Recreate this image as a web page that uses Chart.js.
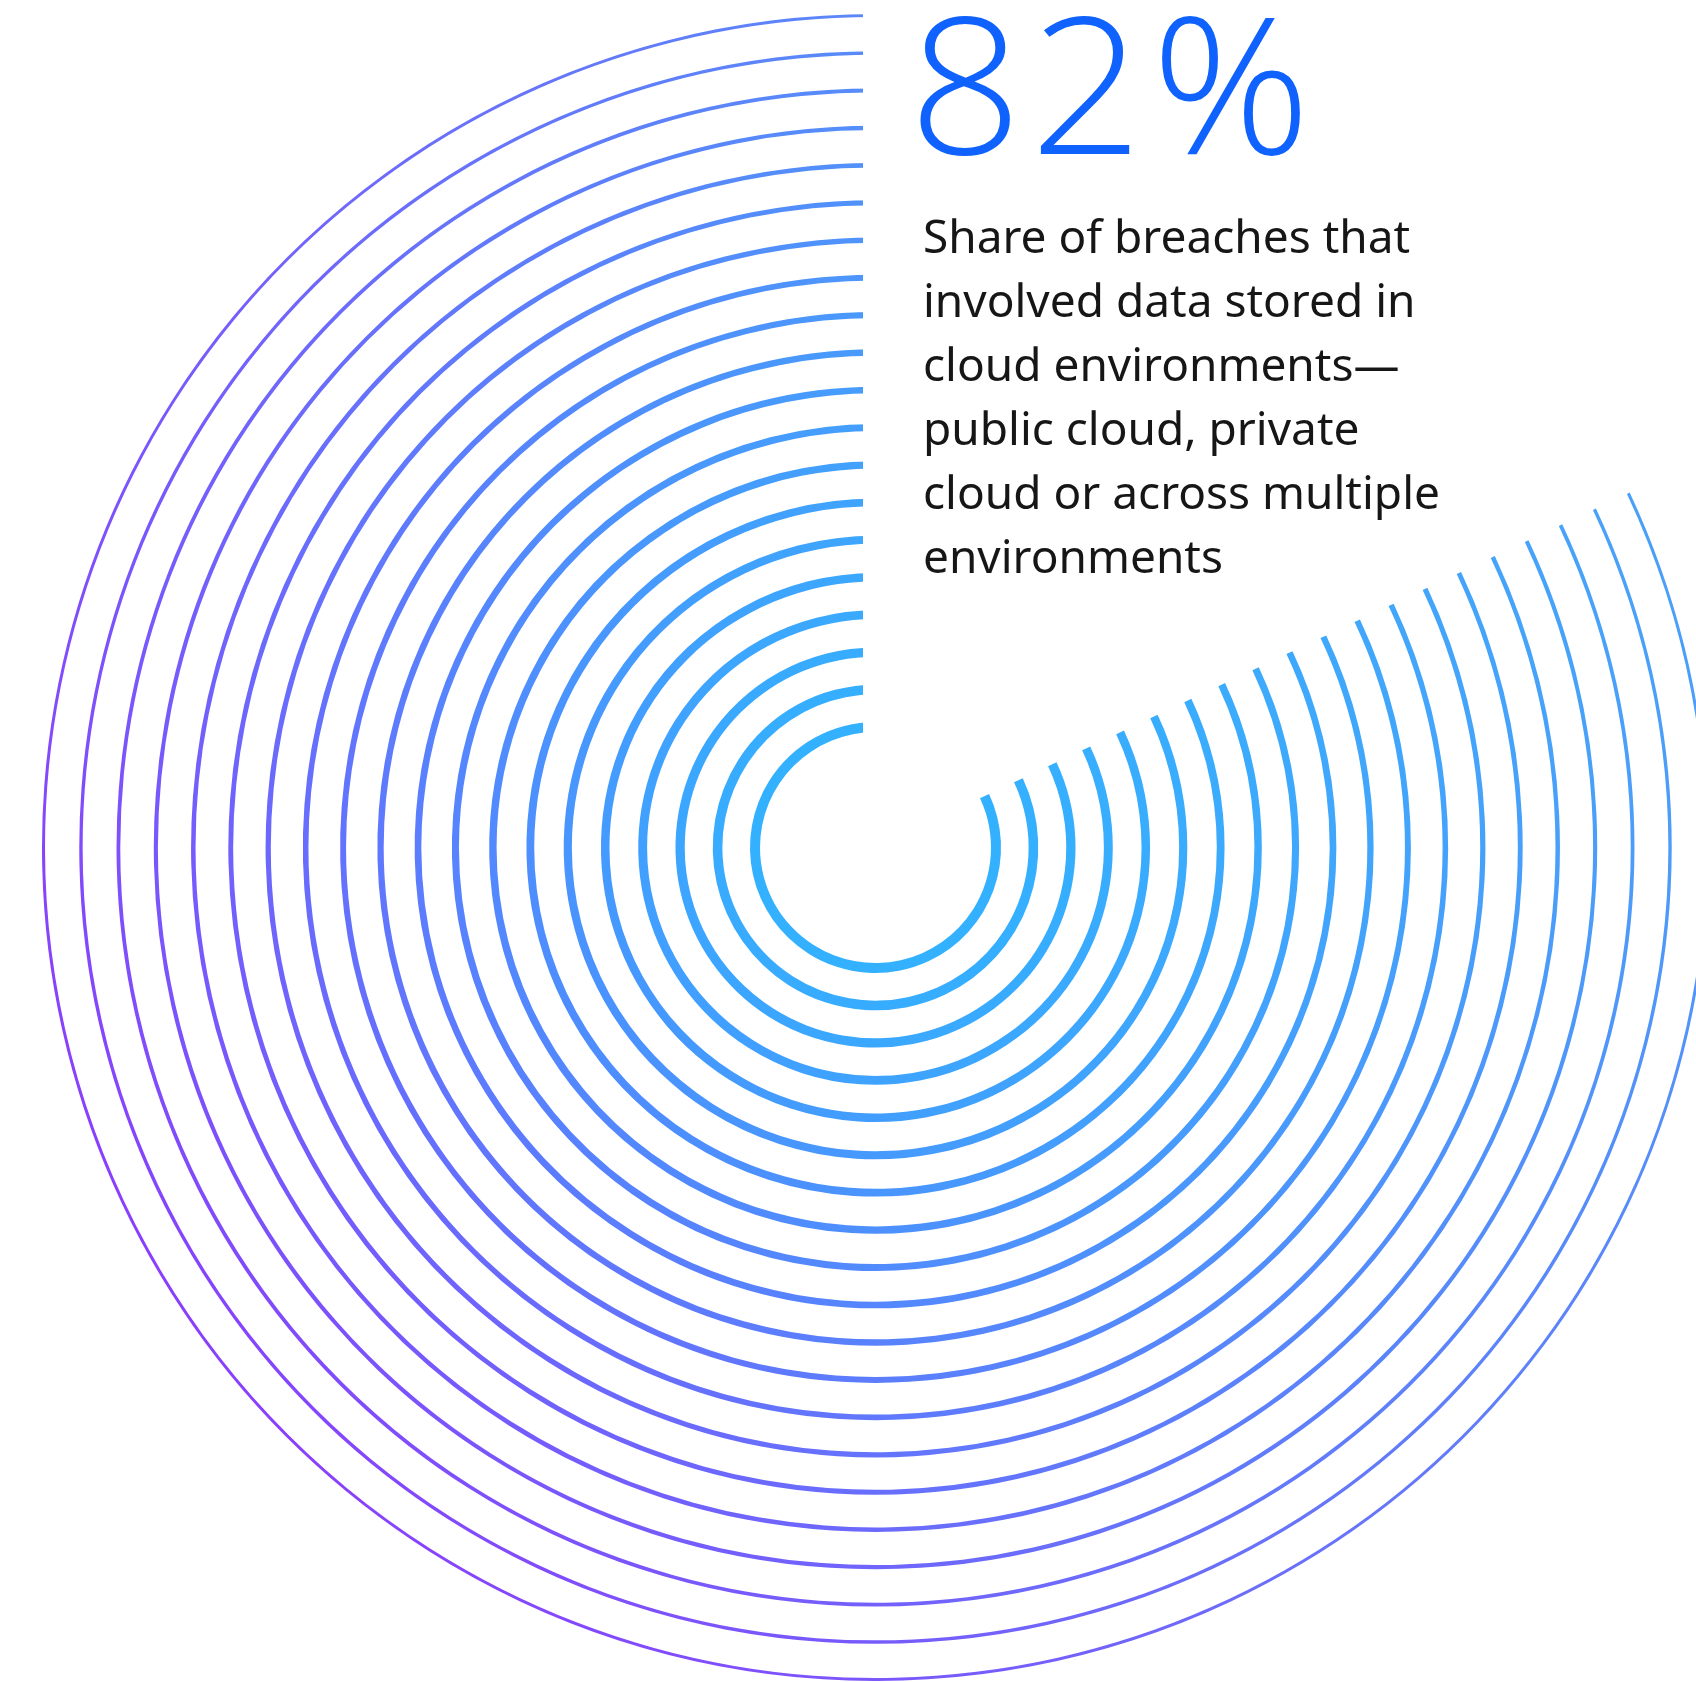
<!DOCTYPE html>
<html>
<head>
<meta charset="utf-8">
<script src="https://cdn.jsdelivr.net/npm/chart.js@4.4.1/dist/chart.umd.min.js"></script>
<style>
    html, body { margin: 0; padding: 0; background: #fff; }
    body { width: 1696px; height: 1682px; overflow: hidden; position: relative; }
    #chart-wrap { position: absolute; left: 42px; top: 14px; width: 1667px; height: 1667px; }
    .big-number {
        position: absolute; left: 909px; top: -14px;
        font-family: "Open Sans", sans-serif; font-weight: 300;
        font-size: 190px; line-height: 190px; color: #0f62fe;
        letter-spacing: 8px; transform: scaleX(1.04); transform-origin: left top;
    }
    .caption {
        position: absolute; left: 923px; top: 203px;
        font-family: "Noto Sans", sans-serif; font-size: 46px;
        line-height: 64px; color: #161616; white-space: nowrap;
    }
</style>
</head>
<body>
<div id="chart-wrap"><canvas id="ringChart"></canvas></div>
<div class="big-number" id="big-number"></div>
<div class="caption" id="caption"></div>

<script>
// data
const shareLabels = ['Cloud environments', 'Other'];
const shareValues = [82, 18];
const headline = '82%';
const captionLines = [
    'Share of breaches that',
    'involved data stored in',
    'cloud environments\u2014',
    'public cloud, private',
    'cloud or across multiple',
    'environments'
];

// ring look
const ringCount = 20;
const ringInner = 120.5;   // radius of the innermost ring (px)
const ringStep = 37.45;    // distance between rings (px)
const topCut = 12.5;       // ring ends are cut flat left of 12 o'clock

const cyan = [51, 177, 255];
const purple = [138, 63, 252];
const blueEnd = [74, 160, 248];

document.getElementById('big-number').textContent = headline;
document.getElementById('caption').innerHTML = captionLines.join('<br>');

function ringWidth(k) {
    return 10 - 7 * k / (ringCount - 1);
}

function mix(a, b, t) {
    const c = a.map((v, i) => Math.round(v + (b[i] - v) * t));
    return `rgb(${c[0]}, ${c[1]}, ${c[2]})`;
}

const gradientCache = {};

function ringFill(context, k) {
    if (context.dataIndex !== 0) return 'rgba(0,0,0,0)';
    const chart = context.chart;
    const area = chart.chartArea;
    if (!area) return mix(cyan, purple, k / (ringCount - 1));
    const key = k + '_' + area.width;
    if (gradientCache[key]) return gradientCache[key];
    const cx = (area.left + area.right) / 2;
    const cy = (area.top + area.bottom) / 2;
    const r = ringInner + ringStep * k;
    const f = k / (ringCount - 1);
    const g = chart.ctx.createLinearGradient(cx - r * 0.85, cy + r * 0.5, cx + r * 0.85, cy - r * 0.5);
    g.addColorStop(0, mix(cyan, purple, f));
    g.addColorStop(1, mix(cyan, blueEnd, f));
    gradientCache[key] = g;
    return g;
}

// outermost ring first, transparent spacer datasets between rings
const datasets = [];
for (let k = ringCount - 1; k >= 0; k--) {
    datasets.push({
        label: 'ring ' + k,
        data: shareValues,
        weight: ringWidth(k),
        backgroundColor: (ctx) => ringFill(ctx, k),
        borderWidth: 0,
        hoverOffset: 0
    });
    if (k > 0) {
        datasets.push({
            label: 'gap',
            data: shareValues,
            weight: ringStep - (ringWidth(k) + ringWidth(k - 1)) / 2,
            backgroundColor: 'rgba(0,0,0,0)',
            borderWidth: 0,
            hoverOffset: 0
        });
    }
}

// flat cut of the ring ends at the top
const topCutPlugin = {
    id: 'topCut',
    afterDatasetsDraw(chart) {
        const arc = chart.getDatasetMeta(0).data[0];
        if (!arc) return;
        const ctx = chart.ctx;
        ctx.save();
        ctx.fillStyle = '#ffffff';
        ctx.fillRect(arc.x - topCut, 0, topCut + 0.5, arc.y);
        ctx.restore();
    }
};

const total = shareValues.reduce((a, b) => a + b, 0);

new Chart(document.getElementById('ringChart'), {
    type: 'doughnut',
    data: { labels: shareLabels, datasets: datasets },
    options: {
        responsive: true,
        maintainAspectRatio: false,
        animation: false,
        events: [],
        cutout: ringInner - ringWidth(0) / 2,
        rotation: 360 * shareValues[1] / total,
        layout: { padding: 0 },
        plugins: {
            legend: { display: false },
            tooltip: { enabled: false }
        }
    },
    plugins: [topCutPlugin]
});
</script>
</body>
</html>
